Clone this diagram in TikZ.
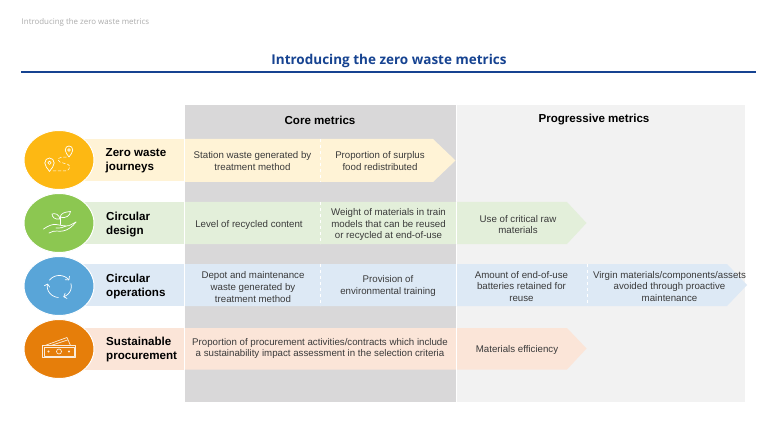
\documentclass[tikz,border=0pt]{standalone}
\usepackage{fontspec}
\setmainfont{Liberation Sans}
\newfontfamily\titlefont{Open Sans}
\usetikzlibrary{calc,arrows.meta,shapes.geometric}
\definecolor{titleblue}{HTML}{164391}
\definecolor{coregrey}{HTML}{D9D8D9}
\definecolor{proggrey}{HTML}{F2F2F2}
\definecolor{yband}{HTML}{FFF3D6}
\definecolor{gband}{HTML}{E3EFDA}
\definecolor{bband}{HTML}{DDE9F5}
\definecolor{oband}{HTML}{FBE5D8}
\definecolor{ycirc}{HTML}{FDB813}
\definecolor{gcirc}{HTML}{8CC751}
\definecolor{bcirc}{HTML}{59A5D8}
\definecolor{ocirc}{HTML}{E67E0A}
\definecolor{celltext}{HTML}{3A3A3A}
\tikzset{
  x=1pt,y=-1pt,
  celltxt/.style={font=\fontsize{9.7}{11.6}\selectfont,text=celltext,align=center,inner sep=0pt},
  head/.style={font=\bfseries\fontsize{11.6}{14}\selectfont,text=black,align=left,anchor=west,inner sep=0pt},
  colhead/.style={font=\bfseries\fontsize{11.6}{14}\selectfont,text=black,inner sep=0pt},
  badge/.style={ellipse,fill=#1,draw=white,line width=1pt,minimum width=70pt,minimum height=59pt,inner sep=0pt},
  sep/.style={white,line width=0.8pt},
  dsep/.style={white,dashed,line width=0.5pt},
  icon/.style={draw=white,line width=0.7pt,fill=none,line cap=round,line join=round},
  spin/.style={icon,-{Straight Barb[length=2.5pt,width=5.5pt,round]}},
}
\begin{document}
\begin{tikzpicture}
\useasboundingbox (0,0) rectangle (778,438);
\fill[white] (0,0) rectangle (778,438);
% header
\node[font=\titlefont\fontsize{7.9}{9}\selectfont,text=black!32,anchor=west,inner sep=0pt] (crumb) at (21.5,22) {Introducing the zero waste metrics};
\node[font=\titlefont\bfseries\fontsize{13.5}{16}\selectfont,text=titleblue,inner sep=0pt] (title) at (389,60.5) {Introducing the zero waste metrics};
\draw[titleblue,line width=1.2pt] (21,72) -- (756,72);
% panels
\fill[coregrey] (185,105) rectangle (456,402);
\fill[proggrey] (456,105) rectangle (745,402);
\draw[white,line width=0.7pt] (456,105) -- (456,402);
\node[colhead] (core) at (320,120) {Core metrics};
\node[colhead] (prog) at (594,119.5) {Progressive metrics};
% bands
\fill[yband] (60,139.5) -- (184,139.5) -- (184,181.5) -- (60,181.5) -- cycle;
\fill[gband] (60,202) -- (184,202) -- (184,244) -- (60,244) -- cycle;
\fill[bband] (60,264) -- (184,264) -- (184,306) -- (60,306) -- cycle;
\fill[oband] (60,328) -- (184,328) -- (184,369.5) -- (60,369.5) -- cycle;
% rows
\fill[yband] (185,139) -- (433,139) -- (455.5,160.5) -- (433,182) -- (185,182) -- cycle;
\draw[dsep] (320.5,139) -- (320.5,182);
\fill[gband] (185,202) -- (567,202) -- (586.5,223) -- (567,244) -- (185,244) -- cycle;
\draw[dsep] (320.5,202) -- (320.5,244);
\draw[sep] (456,202) -- (456,244);
\fill[bband] (185,264) -- (727,264) -- (747,285) -- (727,306) -- (185,306) -- cycle;
\draw[dsep] (320.5,264) -- (320.5,306);
\draw[sep] (456,264) -- (456,306);
\draw[dsep] (587.5,264) -- (587.5,306);
\fill[oband] (185,328) -- (567,328) -- (586.5,348.5) -- (567,369.5) -- (185,369.5) -- cycle;
\draw[sep] (456,328) -- (456,369.5);
% circles
\node[badge=ycirc] (c1) at (59,160) {};
\node[badge=gcirc] (c2) at (59,223) {};
\node[badge=bcirc] (c3) at (59,286) {};
\node[badge=ocirc] (c4) at (59,349) {};
% headings
\node[head] (h1) at (105.5,161) {Zero waste\\journeys};
\node[head] (h2) at (106,224.5) {Circular\\design};
\node[head] (h3) at (106,287) {Circular\\operations};
\node[head] (h4) at (106,349) {Sustainable\\procurement};
% cell texts
\node[celltxt] (t11) at (252.5,161) {Station waste generated by\\treatment method};
\node[celltxt] (t12) at (380,161) {Proportion of surplus\\food redistributed};
\node[celltxt] (t21) at (249,224.5) {Level of recycled content};
\node[celltxt] (t22) at (388.5,224.5) {Weight of materials in train\\models that can be reused\\or recycled at end-of-use};
\node[celltxt] (t23) at (518,224.5) {Use of critical raw\\materials};
\node[celltxt] (t31) at (253,287) {Depot and maintenance\\waste generated by\\treatment method};
\node[celltxt] (t32) at (388,286) {Provision of\\environmental training};
\node[celltxt] (t33) at (521.5,286.5) {Amount of end-of-use\\batteries retained for\\reuse};
\node[celltxt] (t34) at (669.5,286.5) {Virgin materials/components/assets\\avoided through proactive\\maintenance};
\node[celltxt] (t41) at (320,348.5) {Proportion of procurement activities/contracts which include\\a sustainability impact assessment in the selection criteria};
\node[celltxt] (t43) at (517,349.5) {Materials efficiency};
% icon 1: route with pins
\draw[icon] (49.5,171.5) .. controls (47.5,168) and (44.8,166.5) .. (44.8,163) .. controls (44.8,160) and (47,158) .. (49.5,158) .. controls (52,158) and (54.2,160) .. (54.2,163) .. controls (54.2,166.5) and (51.5,168) .. (49.5,171.5) -- cycle;
\draw[icon,line width=0.6pt] (49.5,162.8) circle[radius=1.7];
\draw[icon] (69,157) .. controls (67.5,154) and (65.2,153) .. (65.2,150) .. controls (65.2,147.5) and (67,146) .. (69,146) .. controls (71,146) and (72.8,147.5) .. (72.8,150) .. controls (72.8,153) and (70.5,154) .. (69,157) -- cycle;
\draw[icon,line width=0.6pt] (69,150) circle[radius=1.4];
\draw[icon,densely dashed,line width=0.5pt] (53,171) -- (64,171) .. controls (68,171) and (70,169) .. (70,166.5) .. controls (70,163) and (58,163.5) .. (58,160) .. controls (58,157.5) and (62,157) .. (66.5,157);
% icon 2: hand with sprout
\draw[icon] (43.5,229) .. controls (48,226) and (52,224) .. (56,224.5) .. controls (60,225) and (63,226) .. (66,226) .. controls (70,226) and (72,224) .. (76,222);
\draw[icon] (49,233) .. controls (55,229.5) and (59,232) .. (63,231) .. controls (68,230) and (72,227) .. (76,222);
\draw[icon] (56,228) .. controls (60,228) and (63,228) .. (66,226);
\draw[icon] (60,224.5) -- (60,217);
\draw[icon] (60,219) .. controls (59,214) and (55,213) .. (52,214) .. controls (52,217) and (55,220) .. (60,219) -- cycle;
\draw[icon] (60,217) .. controls (61,213) and (65,212) .. (70.5,211.5) .. controls (70,215) and (67,219) .. (60,217) -- cycle;
% icon 3: cycle arrows
\draw[spin] plot[domain=145:35,samples=18,smooth] ({59.3+12*cos(\x)},{286.5-11*sin(\x)});
\draw[spin] plot[domain=15:-70,samples=16,smooth] ({59.3+12*cos(\x)},{286.5-11*sin(\x)});
\draw[spin] plot[domain=-95:-195,samples=16,smooth] ({59.3+12*cos(\x)},{286.5-11*sin(\x)});
% icon 4: banknotes
\draw[icon,draw=white!85!ocirc] (42.5,345.5) rectangle (75.5,357.5);
\draw[icon,draw=white!85!ocirc,line width=0.5pt] (44,347) rectangle (74,356);
\draw[icon,draw=white!85!ocirc] (59,351.5) circle[radius=2.5];
\fill[white!85!ocirc] (48.5,351.5) circle[radius=1.1] (69,351.5) circle[radius=1.1];
\draw[icon,draw=white!85!ocirc] (45,345.5) -- (67,337.5) -- (70.5,345.5);
\draw[icon,draw=white!85!ocirc] (51,345.5) -- (67.5,340);
\end{tikzpicture}
\end{document}
